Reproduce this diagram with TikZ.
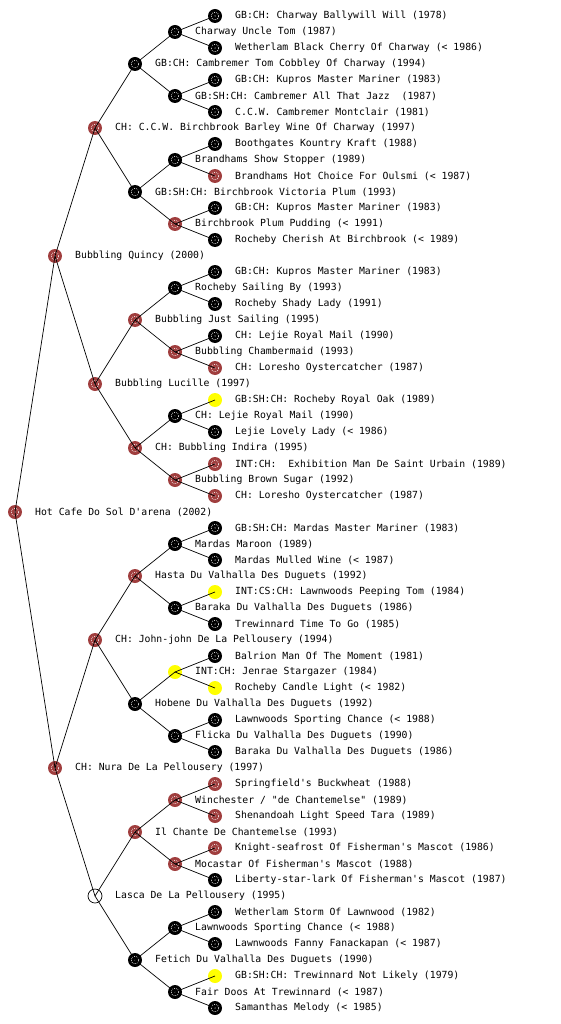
\documentclass[tikz,border=0pt]{standalone}
\usepackage{fontspec}
\setmonofont{DejaVu Sans Mono}
\usetikzlibrary{positioning}

\definecolor{dogred}{RGB}{160,62,62}
\definecolor{dogyellow}{RGB}{255,255,0}

\tikzset{
  dots/.style={path picture={
      \draw[white, line width=0.7pt, dash pattern=on 0.7pt off 1.3pt]
        (path picture bounding box.center) circle (3.8pt);
      \fill[white] (path picture bounding box.center) circle (0.6pt);}},
  dog/.style={circle, inner sep=0pt, minimum size=14pt},
  blackdog/.style={dog, fill=black, dots},
  reddog/.style={dog, fill=dogred, dots},
  yellowdog/.style={dog, fill=dogyellow},
  whitedog/.style={dog, draw=black, line width=0.7pt, fill=white},
  tag/.style={anchor=west, inner sep=0pt, font=\ttfamily\fontsize{9.8}{11}\selectfont},
  link/.style={line width=0.7pt}
}

% one dog of the pedigree: generation, index, style, text
\newcommand{\pedigree}[4]{%
  \pgfmathsetmacro{\py}{(2*#2+1)*(512/2^#1)}%
  \node[#3] (d#1-#2) at ({15+40*#1},\py) {};
  \node[tag, right=20pt of d#1-#2.center] (l#1-#2) {#4};
}

\begin{document}
\begin{tikzpicture}[x=1pt, y=-1pt]
    \useasboundingbox (0,0) rectangle (560,1024);

    % Generation 0
    \pedigree{0}{0}{reddog}{Hot Cafe Do Sol D'arena (2002)}

    % Generation 1
    \foreach \col/\txt [count=\k from 0] in {
        reddog/{Bubbling Quincy (2000)},
        reddog/{CH: Nura De La Pellousery (1997)}}
      {\pedigree{1}{\k}{\col}{\txt}}

    % Generation 2
    \foreach \col/\txt [count=\k from 0] in {
        reddog/{CH: C.C.W. Birchbrook Barley Wine Of Charway (1997)},
        reddog/{Bubbling Lucille (1997)},
        reddog/{CH: John-john De La Pellousery (1994)},
        whitedog/{Lasca De La Pellousery (1995)}}
      {\pedigree{2}{\k}{\col}{\txt}}

    % Generation 3
    \foreach \col/\txt [count=\k from 0] in {
        blackdog/{GB:CH: Cambremer Tom Cobbley Of Charway (1994)},
        blackdog/{GB:SH:CH: Birchbrook Victoria Plum (1993)},
        reddog/{Bubbling Just Sailing (1995)},
        reddog/{CH: Bubbling Indira (1995)},
        reddog/{Hasta Du Valhalla Des Duguets (1992)},
        blackdog/{Hobene Du Valhalla Des Duguets (1992)},
        reddog/{Il Chante De Chantemelse (1993)},
        blackdog/{Fetich Du Valhalla Des Duguets (1990)}}
      {\pedigree{3}{\k}{\col}{\txt}}

    % Generation 4
    \foreach \col/\txt [count=\k from 0] in {
        blackdog/{Charway Uncle Tom (1987)},
        blackdog/{GB:SH:CH: Cambremer All That Jazz\ \ (1987)},
        blackdog/{Brandhams Show Stopper (1989)},
        reddog/{Birchbrook Plum Pudding (< 1991)},
        blackdog/{Rocheby Sailing By (1993)},
        reddog/{Bubbling Chambermaid (1993)},
        blackdog/{CH: Lejie Royal Mail (1990)},
        reddog/{Bubbling Brown Sugar (1992)},
        blackdog/{Mardas Maroon (1989)},
        blackdog/{Baraka Du Valhalla Des Duguets (1986)},
        yellowdog/{INT:CH: Jenrae Stargazer (1984)},
        blackdog/{Flicka Du Valhalla Des Duguets (1990)},
        reddog/{Winchester / "de Chantemelse" (1989)},
        reddog/{Mocastar Of Fisherman's Mascot (1988)},
        blackdog/{Lawnwoods Sporting Chance (< 1988)},
        blackdog/{Fair Doos At Trewinnard (< 1987)}}
      {\pedigree{4}{\k}{\col}{\txt}}

    % Generation 5
    \foreach \col/\txt [count=\k from 0] in {
        blackdog/{GB:CH: Charway Ballywill Will (1978)},
        blackdog/{Wetherlam Black Cherry Of Charway (< 1986)},
        blackdog/{GB:CH: Kupros Master Mariner (1983)},
        blackdog/{C.C.W. Cambremer Montclair (1981)},
        blackdog/{Boothgates Kountry Kraft (1988)},
        reddog/{Brandhams Hot Choice For Oulsmi (< 1987)},
        blackdog/{GB:CH: Kupros Master Mariner (1983)},
        blackdog/{Rocheby Cherish At Birchbrook (< 1989)},
        blackdog/{GB:CH: Kupros Master Mariner (1983)},
        blackdog/{Rocheby Shady Lady (1991)},
        blackdog/{CH: Lejie Royal Mail (1990)},
        reddog/{CH: Loresho Oystercatcher (1987)},
        yellowdog/{GB:SH:CH: Rocheby Royal Oak (1989)},
        blackdog/{Lejie Lovely Lady (< 1986)},
        reddog/{INT:CH:\ \ Exhibition Man De Saint Urbain (1989)},
        reddog/{CH: Loresho Oystercatcher (1987)},
        blackdog/{GB:SH:CH: Mardas Master Mariner (1983)},
        blackdog/{Mardas Mulled Wine (< 1987)},
        yellowdog/{INT:CS:CH: Lawnwoods Peeping Tom (1984)},
        blackdog/{Trewinnard Time To Go (1985)},
        blackdog/{Balrion Man Of The Moment (1981)},
        yellowdog/{Rocheby Candle Light (< 1982)},
        blackdog/{Lawnwoods Sporting Chance (< 1988)},
        blackdog/{Baraka Du Valhalla Des Duguets (1986)},
        reddog/{Springfield's Buckwheat (1988)},
        reddog/{Shenandoah Light Speed Tara (1989)},
        reddog/{Knight-seafrost Of Fisherman's Mascot (1986)},
        blackdog/{Liberty-star-lark Of Fisherman's Mascot (1987)},
        blackdog/{Wetherlam Storm Of Lawnwood (1982)},
        blackdog/{Lawnwoods Fanny Fanackapan (< 1987)},
        yellowdog/{GB:SH:CH: Trewinnard Not Likely (1979)},
        blackdog/{Samanthas Melody (< 1985)}}
      {\pedigree{5}{\k}{\col}{\txt}}

    % Draw lines from each dog to its parents
    \foreach \g in {1,...,5} {
      \pgfmathtruncatemacro{\h}{\g-1}
      \pgfmathtruncatemacro{\n}{2^\g-1}
      \foreach \k in {0,...,\n} {
        \pgfmathtruncatemacro{\p}{floor(\k/2)}
        \draw[link] (d\h-\p.center) -- (d\g-\k.center);
      }
    }
\end{tikzpicture}
\end{document}
